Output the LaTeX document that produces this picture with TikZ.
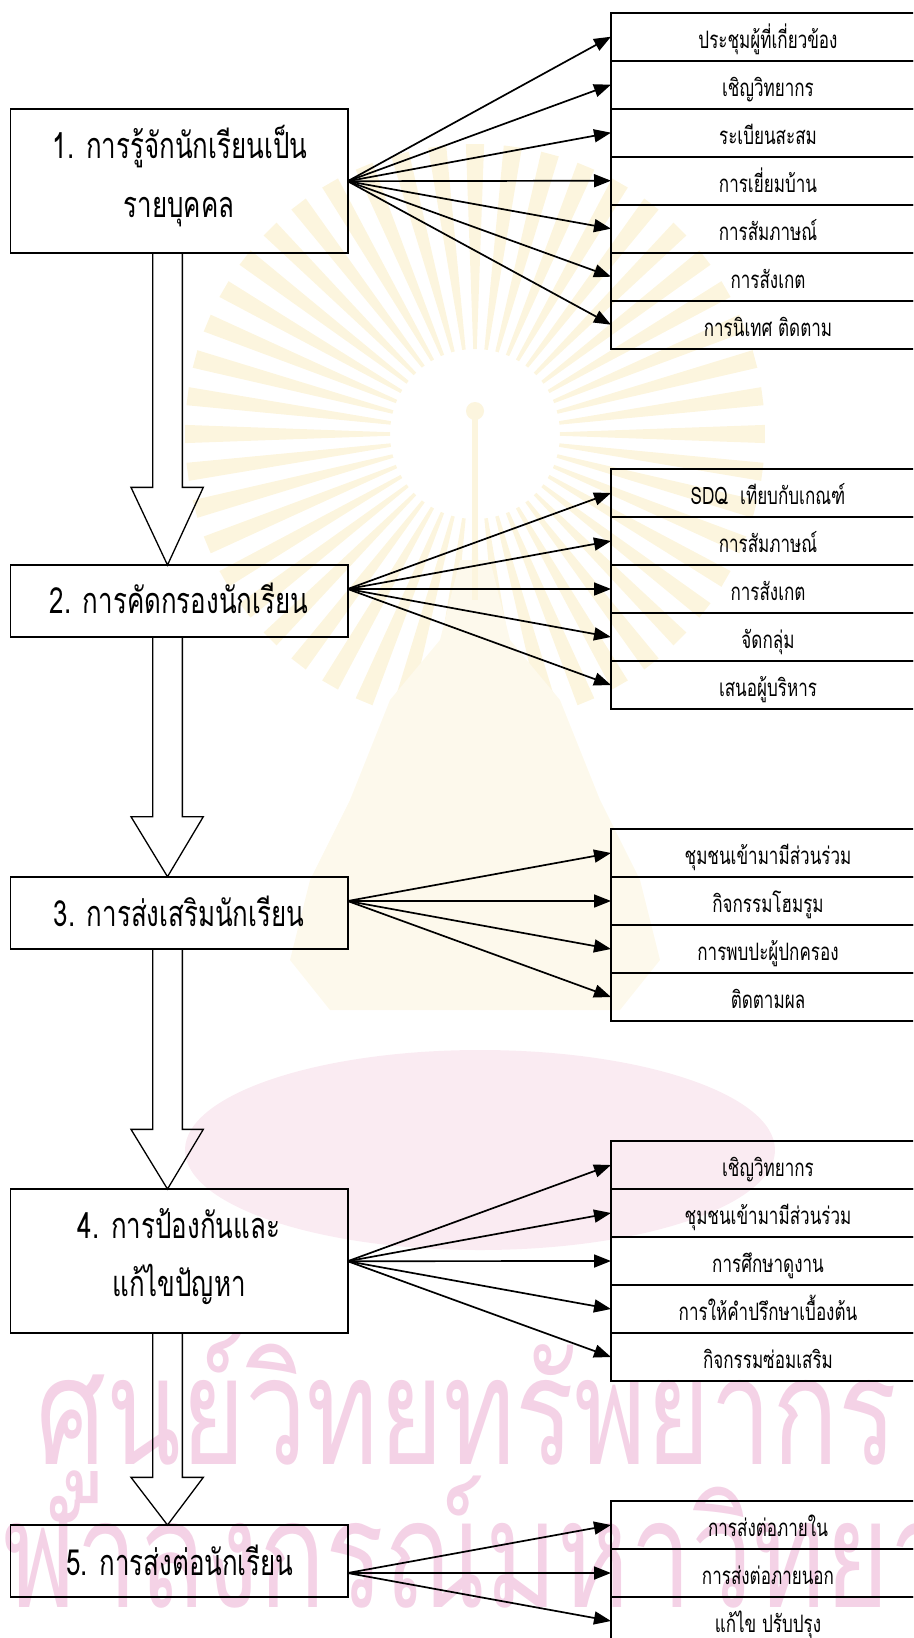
\documentclass[tikz,border=0pt]{standalone}
\usepackage{fontspec}
\newfontfamily\thaimain[Script=Thai,FakeStretch=0.72]{Loma}
\newfontfamily\thaiside[Script=Thai,FakeStretch=0.71]{Loma}
\newfontfamily\thaiwm[Script=Thai,FakeStretch=0.73]{Loma}
\usetikzlibrary{arrows.meta,calc}
\definecolor{wmpink}{RGB}{244,210,230}
\definecolor{wmyellow}{RGB}{252,245,222}
\definecolor{wmellipse}{RGB}{250,235,242}
\definecolor{wmpagoda}{RGB}{253,249,236}
\tikzset{
  lbox/.style={draw, line width=1.8pt, minimum width=337.2pt, inner sep=0pt, outer sep=0pt},
  ltext/.style={anchor=base, inner sep=0pt, font=\thaimain\fontsize{36}{40}\selectfont},
  rbox/.style={draw, line width=1.8pt, minimum width=314pt, minimum height=48pt, inner sep=0pt, outer sep=0pt,
    text height=23pt, text depth=0pt, font=\thaiside\fontsize{24}{28}\selectfont},
  fan/.style={line width=1.7pt, -{Triangle[length=17pt,width=13pt]}},
  blockar/.style={line width=1.3pt, line join=miter},
  wmtext/.style={anchor=base, inner sep=0pt, text=wmpink, font=\thaiwm\fontsize{150}{160}\selectfont}
}
\newcommand\blockarrow[3]{%
  \draw[blockar] let \p1=(#1.south), \p2=(#2.north) in
    (152.65pt,\y1) -- (152.65pt,\y2+#3pt) -- (131pt,\y2+#3pt) -- (167.5pt,\y2)
    -- (203.3pt,\y2+#3pt) -- (182.35pt,\y2+#3pt) -- (182.35pt,\y1);
}
\begin{document}
\begin{tikzpicture}[x=1pt,y=-1pt]
\useasboundingbox (0,0) rectangle (913,1638);
\clip (0,0) rectangle (913,1638);
% ---------- watermark ----------
\foreach \a in {0,7.5,...,352.5}{
  \fill[wmyellow] ($(475,434)+(\a-1.2:85)$) -- ($(475,434)+(\a-1.8:290)$) -- ($(475,434)+(\a+1.8:290)$) -- ($(475,434)+(\a+1.2:85)$) -- cycle;
}
\fill[white] (475,434) circle (80);
\fill[wmellipse] (480,1150) ellipse (295 and 100);
\fill[wmpagoda] (460,560) -- (490,560) -- (510,640) -- (560,700) -- (600,800) -- (640,880) -- (660,960) -- (620,1010)
  -- (330,1010) -- (290,960) -- (310,880) -- (350,800) -- (390,700) -- (440,640) -- cycle;
\fill[wmyellow] (475,411) circle (9);
\fill[wmyellow] (472,411) rectangle (478,600);
\node[wmtext] (wm1) at (467,1464) {ศูนย์วิทยทรัพยากร};
\node[wmtext] (wm2) at (510,1607) {จุฬาลงกรณ์มหาวิทยาลัย};
% ---------- left boxes ----------
\node[lbox, minimum height=144.3pt] (b1) at (179.1,181.2) {};
\node[ltext] (b1a) at (180,158) {1. การรู้จักนักเรียนเป็น};
\node[ltext] (b1b) at (179,217.7) {รายบุคคล};
\node[lbox, minimum height=72.3pt] (b2) at (179.1,601.2) {};
\node[ltext] (b2a) at (179,613) {2. การคัดกรองนักเรียน};
\node[lbox, minimum height=72.6pt] (b3) at (179.1,913) {};
\node[ltext] (b3a) at (179,926.7) {3. การส่งเสริมนักเรียน};
\node[lbox, minimum height=144.3pt] (b4) at (179.1,1261.2) {};
\node[ltext] (b4a) at (179,1238) {4. การป้องกันและ};
\node[ltext] (b4b) at (179,1296.7) {แก้ไขปัญหา};
\node[lbox, minimum height=72.3pt] (b5) at (179.1,1561.2) {};
\node[ltext] (b5a) at (180,1575) {5. การส่งต่อนักเรียน};
% ---------- block arrows ----------
\blockarrow{b1}{b2}{77.7}
\blockarrow{b2}{b3}{60}
\blockarrow{b3}{b4}{59.7}
\blockarrow{b4}{b5}{47.7}
% ---------- right boxes ----------
\node[rbox] (r11) at (768,36.7)  {ประชุมผู้ที่เกี่ยวข้อง};
\node[rbox] (r12) at (768,84.7)  {เชิญวิทยากร};
\node[rbox] (r13) at (768,132.7) {ระเบียนสะสม};
\node[rbox] (r14) at (768,180.7) {การเยี่ยมบ้าน};
\node[rbox] (r15) at (768,228.7) {การสัมภาษณ์};
\node[rbox] (r16) at (768,276.7) {การสังเกต};
\node[rbox] (r17) at (768,324.7) {การนิเทศ ติดตาม};
\node[rbox] (r21) at (768,493) {SDQ\enspace เทียบกับเกณฑ์};
\node[rbox] (r22) at (768,541) {การสัมภาษณ์};
\node[rbox] (r23) at (768,589) {การสังเกต};
\node[rbox] (r24) at (768,637) {จัดกลุ่ม};
\node[rbox] (r25) at (768,685) {เสนอผู้บริหาร};
\node[rbox] (r31) at (768,853) {ชุมชนเข้ามามีส่วนร่วม};
\node[rbox] (r32) at (768,901) {กิจกรรมโฮมรูม};
\node[rbox] (r33) at (768,949) {การพบปะผู้ปกครอง};
\node[rbox] (r34) at (768,997) {ติดตามผล};
\node[rbox] (r41) at (768,1165) {เชิญวิทยากร};
\node[rbox] (r42) at (768,1213) {ชุมชนเข้ามามีส่วนร่วม};
\node[rbox] (r43) at (768,1261) {การศึกษาดูงาน};
\node[rbox] (r44) at (768,1309) {การให้คำปรึกษาเบื้องต้น};
\node[rbox] (r45) at (768,1357) {กิจกรรมซ่อมเสริม};
\node[rbox] (r51) at (768,1525) {การส่งต่อภายใน};
\node[rbox] (r52) at (768,1573) {การส่งต่อภายนอก};
\node[rbox] (r53) at (768,1621) {แก้ไข ปรับปรุง};
% ---------- fan arrows ----------
\coordinate (o1) at (b1.east);
\coordinate (o2) at (b2.east |- r23.west);
\coordinate (o3) at (b3.east |- r32.west);
\coordinate (o4) at (b4.east);
\coordinate (o5) at (b5.east |- r52.west);
\foreach \r in {r11,r12,r13,r14,r15,r16,r17}{\draw[fan] (o1) -- (\r.west);}
\foreach \r in {r21,r22,r23,r24,r25}{\draw[fan] (o2) -- (\r.west);}
\foreach \r in {r31,r32,r33,r34}{\draw[fan] (o3) -- (\r.west);}
\foreach \r in {r41,r42,r43,r44,r45}{\draw[fan] (o4) -- (\r.west);}
\foreach \r in {r51,r52,r53}{\draw[fan] (o5) -- (\r.west);}
\end{tikzpicture}
\end{document}
